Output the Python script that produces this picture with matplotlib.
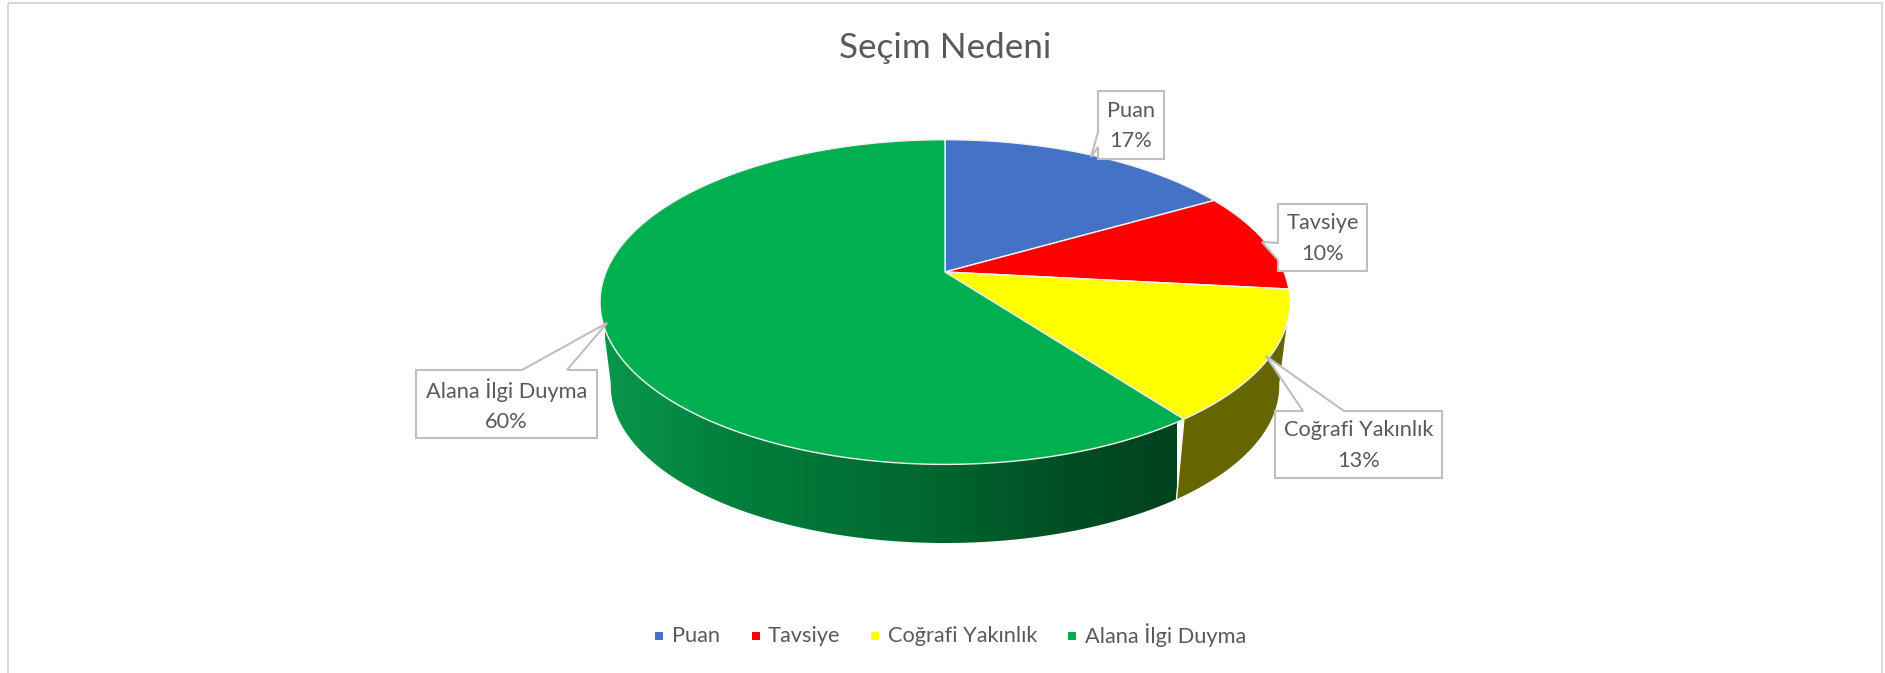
import numpy as np
import matplotlib
matplotlib.use("Agg")
import matplotlib.pyplot as plt
from matplotlib.patches import Polygon, Rectangle
from matplotlib.colors import LinearSegmentedColormap

title = "Seçim Nedeni"
categories = ["Puan", "Tavsiye", "Coğrafi Yakınlık", "Alana İlgi Duyma"]
values = [16.7, 10.0, 13.05, 60.25]
colors = ["#4472C4", "#FF0000", "#FFFF00", "#00B050"]
side_colors = ["#2A4578", "#7F0000", "#666600", None]

plt.rcParams["font.family"] = ["Lato", "Open Sans", "DejaVu Sans"]
TXT = "#595959"
W, H = 1885, 673
fig = plt.figure(figsize=(W / 100, H / 100), dpi=100, facecolor="white")
ax = fig.add_axes([0, 0, 1, 1])
ax.axis("off")

# frame
ax.add_patch(Rectangle((8, 3), 1874, H + 5, fill=False, ec="#D9D9D9", lw=1.5, zorder=0))


def rim(theta, cy, a, b, p=0.185, cx=945.0):
    u, v = np.sin(theta), np.cos(theta)
    w = 1 + p * v
    return cx + a * u / w, cy - b * v / w


TOP = dict(cy=272.0, a=339.0, b=156.8)
LOW = dict(cy=356.5, a=328.5, b=152.0)

fracs = np.array(values, dtype=float) / np.sum(values)
edges = 2 * np.pi * np.concatenate([[0], np.cumsum(fracs)])

green_cmap = LinearSegmentedColormap.from_list(
    "side", [(0, "#0A964C"), (0.22, "#007F3C"), (0.55, "#006830"), (0.82, "#004D22"), (1, "#00431E")]
)

# sides (painted first, top surface covers the hidden part)
for i in range(len(values)):
    ts = np.linspace(edges[i], edges[i + 1], 240)
    ts = ts[np.cos(ts) < -0.17]
    if len(ts) < 2:
        continue
    xt, yt = rim(ts, **TOP)
    xl, yl = rim(ts, **LOW)
    outline = np.column_stack([np.r_[xt, xl[::-1]], np.r_[yt, yl[::-1]]])
    if side_colors[i] is None:
        poly = Polygon(outline, closed=True, fc="none", ec="none", zorder=2)
        ax.add_patch(poly)
        grad = np.linspace(0, 1, 600).reshape(1, -1)
        img = ax.imshow(grad, cmap=green_cmap, aspect="auto", extent=(605, 1177, H, 0), zorder=2,
                        interpolation="bilinear")
        img.set_clip_path(poly)
    else:
        ax.add_patch(Polygon(outline, closed=True, fc=side_colors[i], ec="none", zorder=2))

ax.set_xlim(0, W)
ax.set_ylim(H, 0)

# white seam between the yellow and green sides
x0, y0 = rim(edges[3], **TOP)
x1, y1 = rim(edges[3], **LOW)
ax.plot([x0, x1], [y0, y1], color="white", lw=1.0, zorder=3, solid_capstyle="butt")

# top surface
ax_, ay_ = rim(0.0, cy=272.0, a=0.0, b=0.0)
for i in range(len(values)):
    ts = np.linspace(edges[i], edges[i + 1], 200)
    xt, yt = rim(ts, **TOP)
    pts = np.column_stack([np.r_[ax_, xt], np.r_[ay_, yt]])
    ax.add_patch(Polygon(pts, closed=True, fc=colors[i], ec="#F2F2F2", lw=1.0, zorder=4, joinstyle="round"))

# callout labels: box (x0, x1, y0, y1), tip, and pointer base on an edge
boxes = [(1098, 1164, 91, 159), (1278, 1367, 204, 271), (1275, 1442, 411, 478), (416, 597, 370, 438)]
tips = [(1091, 157), (1262, 242), (1266, 356), (607, 323)]
bases = [("L", 132, 147), ("L", 243, 260), ("T", 1303, 1344), ("T", 522, 567)]
for i, name in enumerate(categories):
    bx0, bx1, by0, by1 = boxes[i]
    side, s0, s1 = bases[i]
    if side == "L":
        pts = [(bx0, by0), (bx1, by0), (bx1, by1), (bx0, by1), (bx0, s1), tips[i], (bx0, s0)]
    else:
        pts = [(bx0, by0), (s0, by0), tips[i], (s1, by0), (bx1, by0), (bx1, by1), (bx0, by1)]
    ax.add_patch(Polygon(pts, closed=True, fc="white", ec="#BFBFBF", lw=1.5, zorder=6, joinstyle="miter"))
    pct = round(100 * values[i] / sum(values))
    ax.text((bx0 + bx1) / 2, (by0 + by1) / 2 + 1, f"{name}\n{pct}%", ha="center", va="center",
            fontsize=15.7, color=TXT, zorder=7, linespacing=1.65)

# title
ax.text(945, 48, title, ha="center", va="center", fontsize=25.2, color=TXT, zorder=7)

# legend
marker_x = [659, 755.5, 875, 1072]
text_x = [672, 768, 888, 1085]
for i, name in enumerate(categories):
    ax.add_patch(Rectangle((marker_x[i] - 4, 632), 8, 8, fc=colors[i], ec="none", zorder=7))
    ax.text(text_x[i], 635.5, name, ha="left", va="center", fontsize=15.7, color=TXT, zorder=7)

fig.savefig("out.png", dpi=100, facecolor="white")
